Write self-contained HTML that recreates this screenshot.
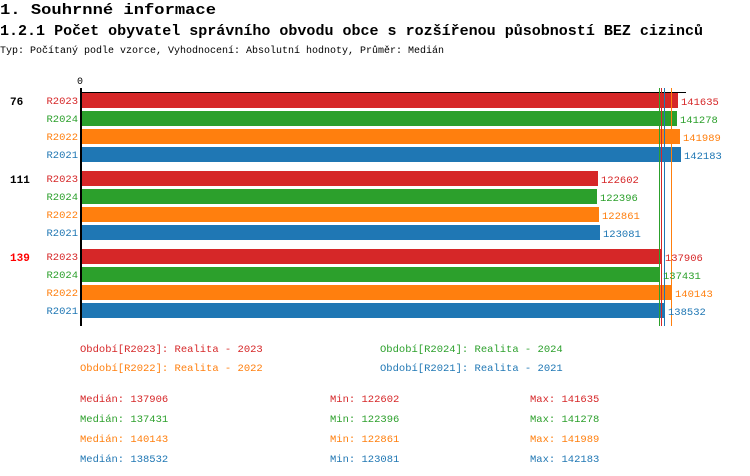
<!DOCTYPE html>
<html><head><meta charset="utf-8"><style>body{margin:0;background:#fff}svg{display:block}text{font-family:"Liberation Mono","DejaVu Sans Mono",monospace}</style></head><body>
<svg width="750" height="476" xmlns="http://www.w3.org/2000/svg">
<text x="0" y="14" font-size="15" font-weight="bold" textLength="216" lengthAdjust="spacingAndGlyphs">1. Souhrnné informace</text>
<text x="0" y="35" font-size="15" font-weight="bold" textLength="703" lengthAdjust="spacingAndGlyphs">1.2.1 Počet obyvatel správního obvodu obce s rozšířenou působností BEZ cizinců</text>
<text x="0" y="53" font-size="10" textLength="444" lengthAdjust="spacingAndGlyphs">Typ: Počítaný podle vzorce, Vyhodnocení: Absolutní hodnoty, Průměr: Medián</text>
<text x="80" y="84" font-size="10" text-anchor="middle">0</text>
<line x1="81" y1="92.5" x2="686" y2="92.5" stroke="#000"/>
<g font-size="10.5" text-anchor="end">
<text x="78" y="104" fill="#d62728">R2023</text><text x="78" y="122" fill="#2ca02c">R2024</text><text x="78" y="140" fill="#ff7f0e">R2022</text><text x="78" y="158" fill="#1f77b4">R2021</text>
<text x="78" y="182" fill="#d62728">R2023</text><text x="78" y="200" fill="#2ca02c">R2024</text><text x="78" y="218" fill="#ff7f0e">R2022</text><text x="78" y="236" fill="#1f77b4">R2021</text>
<text x="78" y="260" fill="#d62728">R2023</text><text x="78" y="278" fill="#2ca02c">R2024</text><text x="78" y="296" fill="#ff7f0e">R2022</text><text x="78" y="314" fill="#1f77b4">R2021</text>
</g>
<g font-size="11" font-weight="bold"><text x="10" y="105">76</text><text x="10" y="183">111</text><text x="10" y="261" fill="#f00">139</text></g>
<g>
<rect x="82" y="93" width="596" height="15" fill="#d62728"/><rect x="82" y="111" width="595" height="15" fill="#2ca02c"/><rect x="82" y="129" width="598" height="15" fill="#ff7f0e"/><rect x="82" y="147" width="599" height="15" fill="#1f77b4"/>
<rect x="82" y="171" width="516" height="15" fill="#d62728"/><rect x="82" y="189" width="515" height="15" fill="#2ca02c"/><rect x="82" y="207" width="517" height="15" fill="#ff7f0e"/><rect x="82" y="225" width="518" height="15" fill="#1f77b4"/>
<rect x="82" y="249" width="580" height="15" fill="#d62728"/><rect x="82" y="267" width="578" height="15" fill="#2ca02c"/><rect x="82" y="285" width="590" height="15" fill="#ff7f0e"/><rect x="82" y="303" width="583" height="15" fill="#1f77b4"/>
</g>
<line x1="659.5" y1="88" x2="659.5" y2="326" stroke="#2ca02c"/><line x1="661.5" y1="88" x2="661.5" y2="326" stroke="#d62728"/><line x1="664.5" y1="88" x2="664.5" y2="326" stroke="#1f77b4"/><line x1="671.5" y1="88" x2="671.5" y2="326" stroke="#ff7f0e"/>
<line x1="81" y1="88" x2="81" y2="326" stroke="#000" stroke-width="2"/>
<g font-size="10.5">
<text x="681" y="105" fill="#d62728">141635</text><text x="680" y="123" fill="#2ca02c">141278</text><text x="683" y="141" fill="#ff7f0e">141989</text><text x="684" y="159" fill="#1f77b4">142183</text>
<text x="601" y="183" fill="#d62728">122602</text><text x="600" y="201" fill="#2ca02c">122396</text><text x="602" y="219" fill="#ff7f0e">122861</text><text x="603" y="237" fill="#1f77b4">123081</text>
<text x="665" y="261" fill="#d62728">137906</text><text x="663" y="279" fill="#2ca02c">137431</text><text x="675" y="297" fill="#ff7f0e">140143</text><text x="668" y="315" fill="#1f77b4">138532</text>
</g>
<g font-size="10.5">
<text x="80" y="352" fill="#d62728">Období[R2023]: Realita - 2023</text><text x="380" y="352" fill="#2ca02c">Období[R2024]: Realita - 2024</text>
<text x="80" y="371" fill="#ff7f0e">Období[R2022]: Realita - 2022</text><text x="380" y="371" fill="#1f77b4">Období[R2021]: Realita - 2021</text>
<text x="80" y="402" fill="#d62728">Medián: 137906</text><text x="330" y="402" fill="#d62728">Min: 122602</text><text x="530" y="402" fill="#d62728">Max: 141635</text>
<text x="80" y="422" fill="#2ca02c">Medián: 137431</text><text x="330" y="422" fill="#2ca02c">Min: 122396</text><text x="530" y="422" fill="#2ca02c">Max: 141278</text>
<text x="80" y="442" fill="#ff7f0e">Medián: 140143</text><text x="330" y="442" fill="#ff7f0e">Min: 122861</text><text x="530" y="442" fill="#ff7f0e">Max: 141989</text>
<text x="80" y="462" fill="#1f77b4">Medián: 138532</text><text x="330" y="462" fill="#1f77b4">Min: 123081</text><text x="530" y="462" fill="#1f77b4">Max: 142183</text>
</g>
</svg>
</body></html>
